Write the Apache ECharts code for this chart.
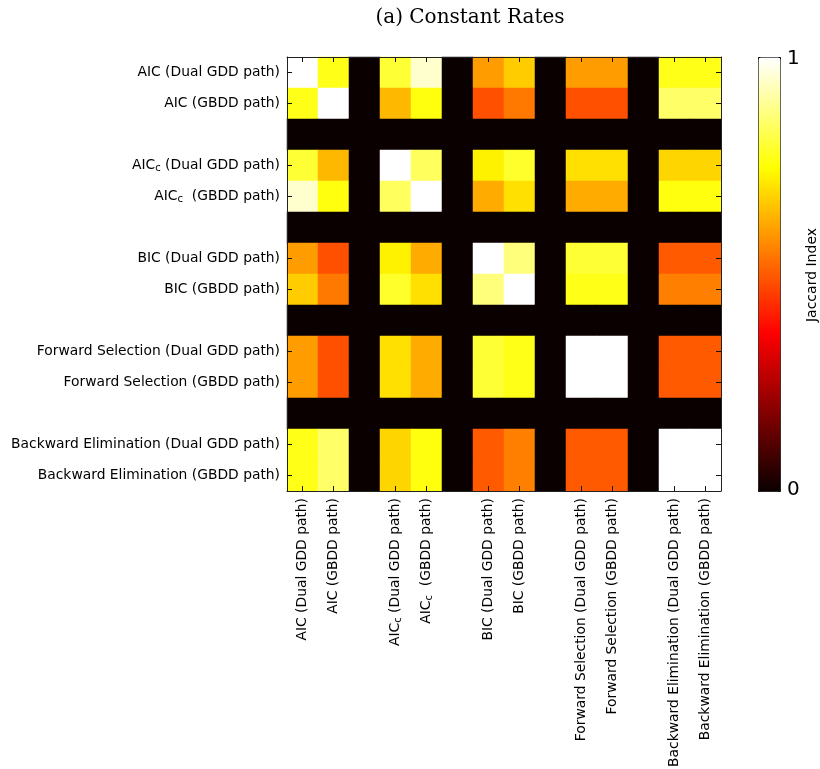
<!DOCTYPE html>
<html>
<head>
<meta charset="utf-8">
<script src="https://cdn.jsdelivr.net/npm/echarts@6/dist/echarts.min.js"></script>
<style>
  html, body { margin: 0; padding: 0; background: #fff; }
  #chart { width: 820px; height: 769px; }
</style>
</head>
<body>
<div id="chart"></div>
<script>
// Selection methods, in plotting order (pairs of Dual GDD / GBDD paths)
const methodLabels = [
  'AIC (Dual GDD path)',
  'AIC (GBDD path)',
  'AIC{s|c} (Dual GDD path)',
  'AIC{s|c}  (GBDD path)',
  'BIC (Dual GDD path)',
  'BIC (GBDD path)',
  'Forward Selection (Dual GDD path)',
  'Forward Selection (GBDD path)',
  'Backward Elimination (Dual GDD path)',
  'Backward Elimination (GBDD path)'
];
const groupSize = 2;

// Pairwise Jaccard index between selected variable sets
const jaccardAicDual   = [1.00, 0.77, 0.80, 0.95, 0.60, 0.67, 0.60, 0.60, 0.77, 0.77];
const jaccardAicGbdd   = [0.77, 1.00, 0.64, 0.76, 0.485, 0.545, 0.485, 0.485, 0.85, 0.85];
const jaccardAiccDual  = [0.80, 0.64, 1.00, 0.84, 0.727, 0.79, 0.70, 0.70, 0.683, 0.683];
const jaccardAiccGbdd  = [0.95, 0.76, 0.84, 1.00, 0.62, 0.70, 0.62, 0.62, 0.76, 0.76];
const jaccardBicDual   = [0.60, 0.485, 0.727, 0.62, 1.00, 0.87, 0.80, 0.80, 0.50, 0.50];
const jaccardBicGbdd   = [0.67, 0.545, 0.79, 0.70, 0.87, 1.00, 0.77, 0.77, 0.556, 0.556];
const jaccardFsDual    = [0.60, 0.485, 0.70, 0.62, 0.80, 0.77, 1.00, 1.00, 0.50, 0.50];
const jaccardFsGbdd    = [0.60, 0.485, 0.70, 0.62, 0.80, 0.77, 1.00, 1.00, 0.50, 0.50];
const jaccardBeDual    = [0.77, 0.85, 0.683, 0.76, 0.50, 0.556, 0.50, 0.50, 1.00, 1.00];
const jaccardBeGbdd    = [0.77, 0.85, 0.683, 0.76, 0.50, 0.556, 0.50, 0.50, 1.00, 1.00];

const jaccard = [
  jaccardAicDual, jaccardAicGbdd, jaccardAiccDual, jaccardAiccGbdd,
  jaccardBicDual, jaccardBicGbdd, jaccardFsDual, jaccardFsGbdd,
  jaccardBeDual, jaccardBeGbdd
];

const colorbarMin = 0;
const colorbarMax = 1;
const colorbarTitle = 'Jaccard Index';
const chartTitle = '(a) Constant Rates';

// Axis slots: an empty row/column separates each method pair
const slots = [];
methodLabels.forEach((_, i) => {
  if (i > 0 && i % groupSize === 0) slots.push(-1);
  slots.push(i);
});
const categories = slots.map((m, k) => (m < 0 ? 'gap' + k : methodLabels[m]));
const isGap = v => typeof v === 'string' && v.indexOf('gap') === 0;

const cells = [];
slots.forEach((mi, yi) => {
  slots.forEach((mj, xi) => {
    const v = (mi < 0 || mj < 0) ? 0 : jaccard[mi][mj];
    cells.push([xi, yi, v]);
  });
});

// matplotlib "hot" colormap
function hot(t) {
  const clamp = x => Math.max(0, Math.min(1, x));
  const r = clamp(0.0416 + (1 - 0.0416) * t / 0.365079);
  const g = clamp((t - 0.365079) / (0.746032 - 0.365079));
  const b = clamp((t - 0.746032) / (1 - 0.746032));
  return 'rgb(' + Math.round(r * 255) + ',' + Math.round(g * 255) + ',' + Math.round(b * 255) + ')';
}
const hotStops = [];
for (let k = 0; k <= 200; k++) hotStops.push(hot(k / 200));

const FONT = 'DejaVu Sans';
const LABEL_SIZE = 13.85;
const labelRich = { s: { fontSize: 10, fontFamily: FONT, color: '#000', padding: [6, 0, 0, 0] } };

function axisCommon(extra) {
  return Object.assign({
    type: 'category',
    data: categories,
    z: 10,
    axisLine: { show: true, onZero: false, lineStyle: { color: '#222', width: 1 } },
    axisTick: {
      show: true, inside: true, length: 5, alignWithLabel: true,
      interval: (idx, val) => !isGap(val),
      lineStyle: { color: '#111', width: 1 }
    },
    splitLine: { show: false },
    splitArea: { show: false }
  }, extra);
}

const chart = echarts.init(document.getElementById('chart'), null, { renderer: 'canvas' });

chart.setOption({
  backgroundColor: '#fff',
  animation: false,
  grid: { left: 287, top: 57, width: 434, height: 434, containLabel: false, outerBoundsMode: 'none' },
  xAxis: [
    axisCommon({
      position: 'bottom',
      axisLabel: {
        show: true, interval: 0, rotate: 90, margin: 7,
        fontSize: LABEL_SIZE, fontFamily: FONT, color: '#000',
        formatter: v => (isGap(v) ? '' : v), rich: labelRich
      }
    }),
    axisCommon({ position: 'top', axisLabel: { show: false } })
  ],
  yAxis: [
    axisCommon({
      position: 'left', inverse: true,
      axisLabel: {
        show: true, interval: 0, margin: 7,
        fontSize: LABEL_SIZE, fontFamily: FONT, color: '#000',
        formatter: v => (isGap(v) ? '' : v), rich: labelRich
      }
    }),
    axisCommon({ position: 'right', inverse: true, axisLabel: { show: false } })
  ],
  visualMap: {
    type: 'continuous',
    min: colorbarMin, max: colorbarMax,
    orient: 'vertical',
    left: 758, top: 57,
    itemWidth: 22, itemHeight: 434,
    padding: 0,
    borderColor: '#000', borderWidth: 1,
    calculable: false, hoverLink: false,
    text: null,
    seriesIndex: 0,
    inRange: { color: hotStops }
  },
  series: [{
    type: 'heatmap',
    xAxisIndex: 0, yAxisIndex: 0,
    data: cells,
    itemStyle: { borderWidth: 0 },
    emphasis: { disabled: true },
    progressive: 0
  }],
  graphic: [
    {
      type: 'text', x: 470, y: 8,
      style: { text: chartTitle, font: '20px "DejaVu Serif"', fill: '#000', align: 'center', verticalAlign: 'top', textAlign: 'center', textVerticalAlign: 'top' }
    },
    {
      type: 'text', x: 787, y: 59,
      style: { text: String(colorbarMax), font: '20px "DejaVu Sans"', fill: '#000', align: 'left', verticalAlign: 'middle', textAlign: 'left', textVerticalAlign: 'middle' }
    },
    {
      type: 'text', x: 787, y: 490,
      style: { text: String(colorbarMin), font: '20px "DejaVu Sans"', fill: '#000', align: 'left', verticalAlign: 'middle', textAlign: 'left', textVerticalAlign: 'middle' }
    },
    {
      type: 'text', x: 812, y: 275, rotation: Math.PI / 2,
      style: { text: colorbarTitle, font: '14px "DejaVu Sans"', fill: '#000', align: 'center', verticalAlign: 'middle', textAlign: 'center', textVerticalAlign: 'middle' }
    }
  ]
});
</script>
</body>
</html>
